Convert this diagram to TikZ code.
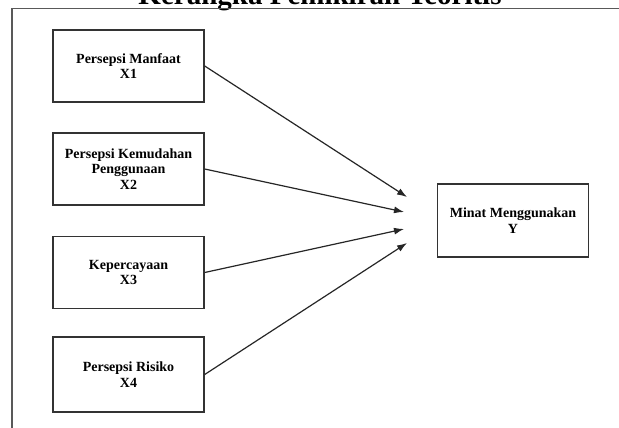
\documentclass[tikz,border=0pt]{standalone}
\usepackage{fontspec}
\setmainfont{Liberation Serif}
\usetikzlibrary{arrows.meta}
\begin{document}
\begin{tikzpicture}[x=1pt,y=-1pt,
  box/.style={draw=black!80, line width=1.4pt, minimum width=151pt, minimum height=72pt,
    align=center, inner sep=0pt, font=\fontsize{14}{15.5}\selectfont\bfseries},
  arr/.style={draw=black!85, line width=1.2pt, -{Latex[length=10pt,width=7pt]}},
  frame/.style={draw=black!65, line width=1.8pt}]
\useasboundingbox (0,0) rectangle (619,428);
\fill[white] (0,0) rectangle (619,428);
\node[anchor=base, font=\fontsize{29}{32}\selectfont\bfseries] (title) at (320,4.5) {Kerangka Pemikiran Teoritis};
\draw[frame] (12,432) -- (12,8.5) -- (625,8.5);
\node[box] (b1) at (128.5,66) {Persepsi Manfaat\\X1};
\node[box] (b2) at (128.5,169) {Persepsi Kemudahan\\Penggunaan\\X2};
\node[box] (b3) at (128.5,272.5) {Kepercayaan\\X3};
\node[box, minimum height=75pt] (b4) at (128.5,374.5) {Persepsi Risiko\\X4};
\node[box, minimum height=73pt] (y) at (513,220.5) {Minat Menggunakan\\Y};
\coordinate (e1) at (407,197);
\coordinate (e2) at (404,212);
\coordinate (e3) at (404,229);
\coordinate (e4) at (407,243);
\draw[arr] (b1.east) -- (e1);
\draw[arr] (b2.east) -- (e2);
\draw[arr] (b3.east) -- (e3);
\draw[arr] (b4.east) -- (e4);
\end{tikzpicture}
\end{document}
